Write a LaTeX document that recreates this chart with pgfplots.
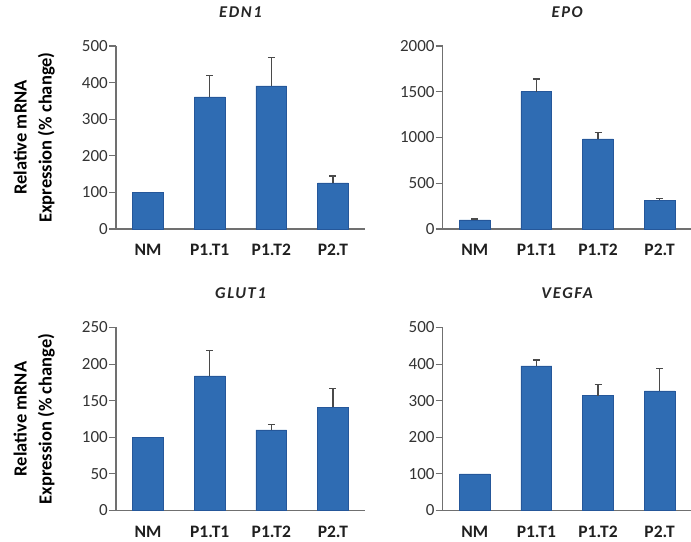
\documentclass[border=0pt]{standalone}
\usepackage{fontspec}
\setmainfont{Carlito}
\usepackage{pgfplots}
\usepackage{pgfplotstable}
\pgfplotsset{compat=1.18}

\definecolor{barblue}{HTML}{2F6CB3}
\definecolor{baredge}{HTML}{25579A}
\definecolor{axgray}{HTML}{707070}
\definecolor{errgray}{HTML}{4A4A4A}

% value and upper error (one-sided) for each group
\pgfplotstableread{
x y e
0 100 0
1 361 59
2 391 77
3 126 19
}\edn
\pgfplotstableread{
x y e
0 100 10
1 1500 140
2 985 70
3 315 22
}\epo
\pgfplotstableread{
x y e
0 100 0
1 184 35
2 110 7
3 141 26
}\glut
\pgfplotstableread{
x y e
0 100 0
1 395 16
2 314 31
3 327 60
}\vegfa

\newcommand{\ylab}{\fontsize{18.5bp}{25bp}\selectfont\bfseries}
\pgfplotsset{
  mrna/.style={
    scale only axis, width=249bp, height=183bp,
    anchor=south west,
    xmin=-0.52, xmax=3.52, ymin=0,
    axis x line*=bottom, axis y line*=left,
    axis line style={axgray, line width=1.1bp},
    xtick={0,1,2,3}, xticklabels={NM,P1.T1,P1.T2,P2.T},
    x tick style={draw=none},
    y tick style={axgray, line width=1.1bp},
    tick align=outside, major tick length=7bp,
    xticklabel style={font=\fontsize{17.5bp}{20bp}\selectfont\bfseries,
      text=black!88, anchor=base, inner sep=0pt, yshift=-20bp},
    yticklabel style={font=\fontsize{17bp}{19bp}\selectfont,
      text=black!80, inner sep=1bp},
    /pgf/number format/assume math mode=true,
    /pgf/number format/1000 sep={},
    scaled y ticks=false,
    title style={font=\fontsize{16.5bp}{19bp}\selectfont\bfseries\itshape\addfontfeature{LetterSpace=10},
      text=black!85, at={(axis description cs:0.5,1)}, anchor=base, yshift=23bp},
    ylabel style={font=\ylab, align=center, inner sep=0pt,
      at={(axis description cs:-0.245,0.5)}, anchor=south},
    clip=false,
  },
  mbar/.style={ybar, bar width=0.5, fill=barblue, draw=baredge, line width=0.6bp},
  merr/.style={draw=none, mark=none, forget plot,
    restrict expr to domain={\thisrow{e}}{0.5:100000},
    error bars/.cd, y dir=plus, y explicit,
    error bar style={draw=errgray, line width=1.2bp},
    error mark options={draw=errgray, rotate=90, line width=1.2bp, mark size=3.5bp}},
}

\begin{document}
\begin{tikzpicture}
\path[use as bounding box] (0,0) rectangle (691bp,542bp);

\begin{axis}[mrna, at={(116bp,313bp)}, ymax=500, ytick={0,100,...,500},
  title={EDN1}, ylabel={Relative mRNA\\Expression (\% change)}]
  \addplot[mbar] table[x=x, y=y] {\edn};
  \addplot[merr] table[x=x, y=y, y error=e] {\edn};
\end{axis}

\begin{axis}[mrna, at={(442.7bp,313bp)}, ymax=2000, ytick={0,500,...,2000},
  title={EPO}]
  \addplot[mbar] table[x=x, y=y] {\epo};
  \addplot[merr] table[x=x, y=y, y error=e] {\epo};
\end{axis}

\begin{axis}[mrna, at={(116bp,31.5bp)}, ymax=250, ytick={0,50,...,250},
  title={GLUT1}, ylabel={Relative mRNA\\Expression (\% change)}]
  \addplot[mbar] table[x=x, y=y] {\glut};
  \addplot[merr] table[x=x, y=y, y error=e] {\glut};
\end{axis}

\begin{axis}[mrna, at={(442.7bp,31.5bp)}, ymax=500, ytick={0,100,...,500},
  title={VEGFA}]
  \addplot[mbar] table[x=x, y=y] {\vegfa};
  \addplot[merr] table[x=x, y=y, y error=e] {\vegfa};
\end{axis}
\end{tikzpicture}
\end{document}
